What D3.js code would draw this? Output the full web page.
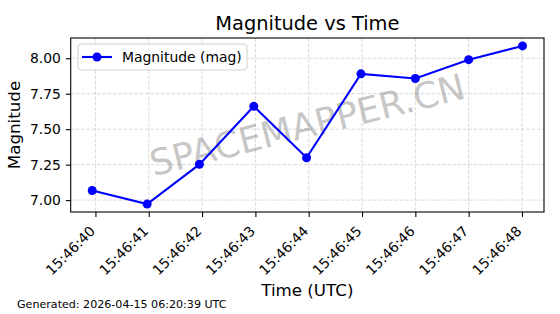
<!DOCTYPE html>
<html>
<head>
<meta charset="utf-8">
<script src="https://cdn.jsdelivr.net/npm/d3@7"></script>
<style>
  body { margin: 0; background: #fff; }
  svg { display: block; font-family: "DejaVu Sans", sans-serif; }
</style>
</head>
<body>
<svg id="chart" width="560" height="314"></svg>
<script>
// ---- data ----
const timeSeconds = [39.94, 40.97, 41.95, 42.97, 43.96, 44.98, 46.00, 47.00, 48.01]; // seconds after 15:46:00 UTC
const magnitudes = [7.068, 6.972, 7.252, 7.661, 7.299, 7.890, 7.857, 7.990, 8.087];
const xTickSeconds = [40, 41, 42, 43, 44, 45, 46, 47, 48];
const yTickValues = [7.00, 7.25, 7.50, 7.75, 8.00];
const titleText = "Magnitude vs Time";
const xLabelText = "Time (UTC)";
const yLabelText = "Magnitude";
const legendText = "Magnitude (mag)";
const watermarkText = "SPACEMAPPER.CN";
const footerText = "Generated: 2026-04-15 06:20:39 UTC";

const base = Date.UTC(2026, 3, 15, 15, 46, 0);
const toDate = s => new Date(base + s * 1000);
const data = timeSeconds.map((s, i) => ({ t: toDate(s), v: magnitudes[i] }));

const svg = d3.select("#chart");
const W = 560, H = 314;
const x0 = 70.7, x1 = 544, y0 = 38, y1 = 212;

// matplotlib-like 5% padding
const tExt = d3.extent(data, d => +d.t);
const tPad = (tExt[1] - tExt[0]) * 0.05;
const vExt = d3.extent(data, d => d.v);
const vPad = (vExt[1] - vExt[0]) * 0.05;

const x = d3.scaleUtc().domain([tExt[0] - tPad, tExt[1] + tPad]).range([x0, x1]);
const y = d3.scaleLinear().domain([vExt[0] - vPad, vExt[1] + vPad]).range([y1, y0]);

// grid
const grid = svg.append("g");
grid.selectAll("line.gx").data(xTickSeconds).enter().append("line")
  .attr("x1", d => x(toDate(d))).attr("x2", d => x(toDate(d)))
  .attr("y1", y0).attr("y2", y1)
  .attr("stroke", "#b0b0b0").attr("stroke-opacity", 0.6)
  .attr("stroke-width", 0.8).attr("stroke-dasharray", "3.7,1.6");
grid.selectAll("line.gy").data(yTickValues).enter().append("line")
  .attr("x1", x0).attr("x2", x1)
  .attr("y1", d => y(d)).attr("y2", d => y(d))
  .attr("stroke", "#b0b0b0").attr("stroke-opacity", 0.6)
  .attr("stroke-width", 0.8).attr("stroke-dasharray", "3.7,1.6");

// watermark
svg.append("text")
  .attr("transform", `translate(${(x0 + x1) / 2},${(y0 + y1) / 2}) rotate(-14)`)
  .attr("text-anchor", "middle").attr("dominant-baseline", "central")
  .attr("font-size", 36).attr("fill", "#808080").attr("fill-opacity", 0.45)
  .text(watermarkText);

// line + markers
const line = d3.line().x(d => x(d.t)).y(d => y(d.v));
svg.append("path").datum(data).attr("d", line)
  .attr("fill", "none").attr("stroke", "#0000ff").attr("stroke-width", 2.1);
svg.selectAll("circle.pt").data(data).enter().append("circle")
  .attr("cx", d => x(d.t)).attr("cy", d => y(d.v)).attr("r", 4.5)
  .attr("fill", "#0000ff");

// axes
const fmt = d3.utcFormat("%H:%M:%S");
const xAxis = d3.axisBottom(x).tickValues(xTickSeconds.map(toDate)).tickFormat(fmt).tickSizeOuter(0).tickSize(4.9).tickPadding(4.9);
const gx = svg.append("g").attr("transform", `translate(0,${y1})`).call(xAxis);
gx.select(".domain").remove();
gx.selectAll(".tick line").attr("stroke", "#000").attr("stroke-width", 1.1);
gx.selectAll(".tick text")
  .attr("font-size", 13.9).attr("fill", "#000").attr("font-family", "DejaVu Sans")
  .attr("text-anchor", "end").attr("dy", null)
  .attr("y", 0).attr("x", 0)
  .attr("transform", "translate(0,20) rotate(-45)");

const yAxis = d3.axisLeft(y).tickValues(yTickValues).tickFormat(d3.format(".2f")).tickSizeOuter(0).tickSize(4.9).tickPadding(4.9);
const gy = svg.append("g").attr("transform", `translate(${x0},0)`).call(yAxis);
gy.select(".domain").remove();
gy.selectAll(".tick line").attr("stroke", "#000").attr("stroke-width", 1.1);
gy.selectAll(".tick text").attr("font-size", 13.9).attr("fill", "#000").attr("font-family", "DejaVu Sans");

// spines
svg.append("rect").attr("x", x0).attr("y", y0).attr("width", x1 - x0).attr("height", y1 - y0)
  .attr("fill", "none").attr("stroke", "#000").attr("stroke-width", 1.1);

// legend
const lg = svg.append("g");
lg.append("rect").attr("x", 78).attr("y", 44).attr("width", 169).attr("height", 26)
  .attr("rx", 3).attr("fill", "#fff").attr("fill-opacity", 0.8)
  .attr("stroke", "#d0d0d0").attr("stroke-width", 1);
lg.append("line").attr("x1", 82).attr("x2", 112).attr("y1", 57).attr("y2", 57)
  .attr("stroke", "#0000ff").attr("stroke-width", 2.1);
lg.append("circle").attr("cx", 97).attr("cy", 57).attr("r", 4.5).attr("fill", "#0000ff");
lg.append("text").attr("x", 122).attr("y", 62).attr("font-size", 13.9).attr("fill", "#000").text(legendText);

// titles
svg.append("text").attr("x", (x0 + x1) / 2).attr("y", 30).attr("text-anchor", "middle")
  .attr("font-size", 19.4).attr("fill", "#000").text(titleText);
svg.append("text").attr("x", (x0 + x1) / 2).attr("y", 296).attr("text-anchor", "middle")
  .attr("font-size", 16.7).attr("fill", "#000").text(xLabelText);
svg.append("text").attr("transform", `translate(20,${(y0 + y1) / 2}) rotate(-90)`)
  .attr("text-anchor", "middle").attr("font-size", 16.7).attr("fill", "#000").text(yLabelText);
svg.append("text").attr("x", 17).attr("y", 308).attr("font-size", 11.1).attr("fill", "#000").text(footerText);
</script>
</body>
</html>
